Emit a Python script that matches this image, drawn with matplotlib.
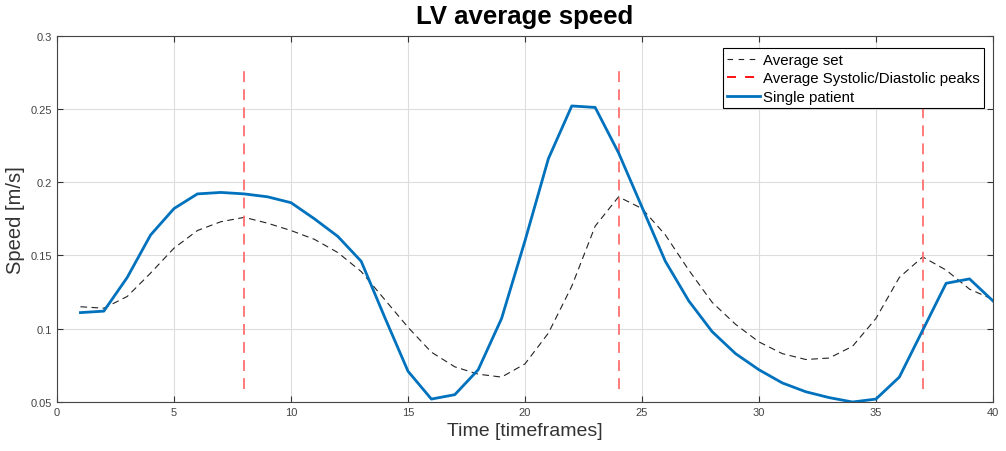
import numpy as np
import matplotlib
matplotlib.use("Agg")
import matplotlib.pyplot as plt

plt.rcParams['font.family'] = ['Liberation Sans', 'DejaVu Sans']

# timeframes
t = np.arange(1, 41)

# average over the set
avg_set = [0.115, 0.114, 0.122, 0.138, 0.155, 0.167, 0.173, 0.176, 0.172, 0.167,
           0.161, 0.152, 0.139, 0.120, 0.101, 0.084, 0.074, 0.069, 0.067, 0.076,
           0.097, 0.129, 0.170, 0.190, 0.182, 0.164, 0.140, 0.118, 0.103, 0.091,
           0.083, 0.079, 0.080, 0.088, 0.107, 0.135, 0.149, 0.140, 0.127, 0.120]

# single patient
patient = [0.111, 0.112, 0.135, 0.164, 0.182, 0.192, 0.193, 0.192, 0.190, 0.186,
           0.175, 0.163, 0.146, 0.108, 0.071, 0.052, 0.055, 0.072, 0.107, 0.160,
           0.216, 0.252, 0.251, 0.220, 0.183, 0.146, 0.119, 0.098, 0.083, 0.072,
           0.063, 0.057, 0.053, 0.050, 0.052, 0.067, 0.099, 0.131, 0.134, 0.119]

# systolic / diastolic peak positions
peaks = [8, 24, 37]
peak_lo, peak_hi = 0.059, 0.277

fig = plt.figure(figsize=(10.06, 4.52), dpi=100)
ax = fig.add_axes([0.0567, 0.1084, 0.9303, 0.8106])

ax.plot(t, avg_set, color='#222222', lw=0.8, dashes=(6, 4), label='Average set')
for i, p in enumerate(peaks):
    ax.plot([p, p], [peak_lo, peak_hi], color='#ff7070', lw=1.3, dashes=(6, 4),
            label='Average Systolic/Diastolic peaks' if i == 0 else None)
ax.plot(t, patient, color='#0072BD', lw=2.0, label='Single patient')

ax.set_xlim(0, 40)
ax.set_ylim(0.05, 0.3)
ax.set_xticks(np.arange(0, 41, 5))
ax.set_yticks([0.05, 0.1, 0.15, 0.2, 0.25, 0.3])
ax.set_yticklabels(['0.05', '0.1', '0.15', '0.2', '0.25', '0.3'])
ax.grid(True, color='#dddddd', lw=0.8)
ax.set_axisbelow(True)
ax.tick_params(direction='in', top=True, right=True, labelsize=8,
               colors='#333333', length=4)
ax.tick_params(labelcolor='#444444')
for s in ax.spines.values():
    s.set_color('#444444')
    s.set_linewidth(0.8)

ax.set_xlabel('Time [timeframes]', fontsize=14, color='#333333', labelpad=4)
ax.set_ylabel('Speed [m/s]', fontsize=14.5, color='#333333', labelpad=4)
ax.set_title('LV average speed', fontsize=18.5, fontweight='bold', pad=9)

leg = ax.legend(loc='upper right', fontsize=10.8, fancybox=False, framealpha=1,
                edgecolor='black', borderpad=0.3, labelspacing=0.3,
                handlelength=2.2, handletextpad=0.15, borderaxespad=0.6,
                bbox_to_anchor=(1.0, 0.99))
leg.get_frame().set_linewidth(0.8)
leg.legend_handles[0].set_dashes((5, 5))
leg.legend_handles[1].set_dashes((5, 5))
leg.legend_handles[1].set_color('red')

fig.savefig('out.png', dpi=100)
